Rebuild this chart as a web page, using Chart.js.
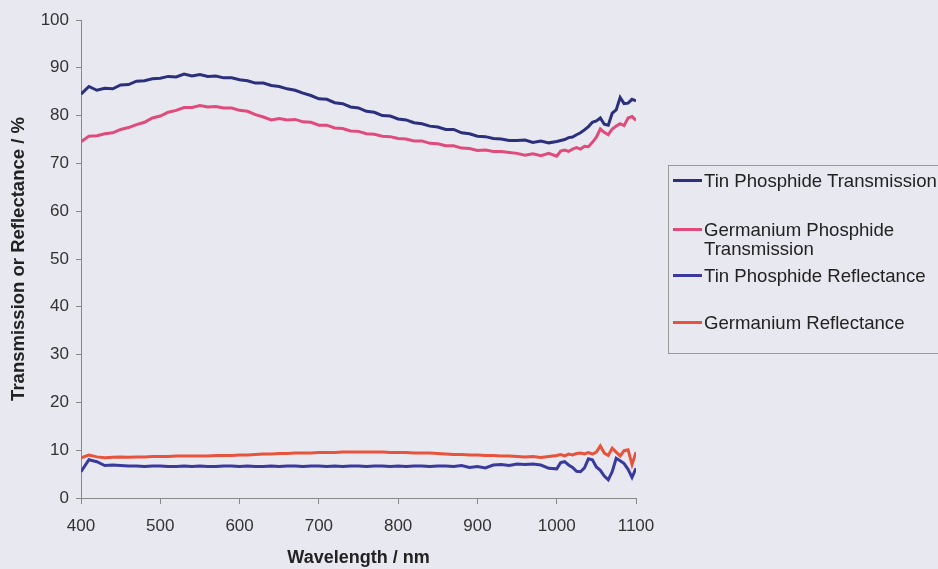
<!DOCTYPE html>
<html>
<head>
<meta charset="utf-8">
<script src="https://cdn.jsdelivr.net/npm/chart.js@4"></script>
<style>
  body { margin: 0; background: #e8e8f0; }
  #wrap { position: relative; width: 938px; height: 569px; overflow: hidden; }
  #legend { position: absolute; left: 668px; top: 165px; width: 300px; height: 187px;
    border: 1px solid #9a9a9a; font-family: Arial, "Liberation Sans", sans-serif; font-size: 18.6px; color: #222; }
  .item { position: absolute; left: 4px; display: flex; align-items: flex-start; line-height: 19px; white-space: nowrap; }
  .item span.sw { display: inline-block; width: 29px; height: 3px; margin-top: 8px; margin-right: 2px; }
</style>
</head>
<body>
<div id="wrap">
  <canvas id="myChart" width="938" height="569"></canvas>
  <div id="legend"></div>
</div>
<script>
const wavelength = [400,410,420,430,440,450,460,470,480,490,500,510,520,530,540,550,560,570,580,590,
  600,610,620,630,640,650,660,670,680,690,700,710,720,730,740,750,760,770,780,790,
  800,810,820,830,840,850,860,870,880,890,900,910,920,930,940,950,960,970,980,990,1000,
  1005,1010,1015,1020,1025,1030,1035,1040,1045,1050,1055,1060,1065,1070,1075,1080,1085,1090,1095,1100];

const tinTrans = [84.5,86.1,85.3,85.7,85.6,86.4,86.5,87.2,87.3,87.7,87.8,88.2,88.1,88.7,88.3,88.6,88.2,88.3,87.9,87.9,
  87.5,87.3,86.8,86.8,86.3,86.1,85.6,85.3,84.7,84.2,83.5,83.4,82.7,82.5,81.8,81.6,80.9,80.7,80.0,79.9,
  79.3,79.1,78.5,78.3,77.8,77.6,77.1,77.1,76.4,76.2,75.7,75.6,75.2,75.1,74.8,74.8,74.9,74.4,74.7,74.3,74.6,
  74.8,75.0,75.4,75.5,76.0,76.4,77.0,77.7,78.6,78.9,79.5,78.2,78.0,80.5,81.2,83.8,82.5,82.6,83.4,83.1];

const gerTrans = [74.5,75.7,75.8,76.2,76.4,77.1,77.5,78.1,78.6,79.5,79.9,80.7,81.1,81.7,81.7,82.1,81.8,81.9,81.6,81.6,
  81.1,80.9,80.2,79.7,79.1,79.4,79.1,79.2,78.7,78.6,78.0,78.0,77.4,77.3,76.8,76.7,76.2,76.1,75.7,75.6,
  75.2,75.1,74.7,74.7,74.2,74.1,73.7,73.7,73.2,73.1,72.7,72.8,72.5,72.5,72.3,72.1,71.7,72.0,71.6,72.1,71.5,
  72.6,72.8,72.5,73.0,73.3,73.0,73.6,73.5,74.4,75.5,77.2,76.5,76.0,77.2,77.8,78.3,77.9,79.5,79.8,79.0];

const tinRefl = [5.5,8.0,7.6,6.8,6.9,6.8,6.7,6.7,6.6,6.7,6.7,6.6,6.6,6.7,6.6,6.7,6.6,6.6,6.7,6.7,
  6.6,6.7,6.6,6.6,6.7,6.6,6.7,6.7,6.6,6.7,6.7,6.6,6.7,6.6,6.7,6.7,6.6,6.7,6.7,6.6,
  6.7,6.6,6.7,6.7,6.6,6.7,6.7,6.6,6.8,6.4,6.6,6.3,6.9,7.0,6.8,7.1,7.0,7.1,6.9,6.2,6.1,
  7.4,7.6,6.9,6.4,5.6,5.5,6.3,8.2,8.0,6.5,5.8,4.6,3.8,5.5,8.3,7.8,7.2,6.0,4.3,6.2];

const gerRefl = [8.4,9.0,8.6,8.4,8.5,8.6,8.5,8.6,8.6,8.7,8.7,8.7,8.8,8.8,8.8,8.8,8.8,8.9,8.9,8.9,
  9.0,9.0,9.1,9.2,9.2,9.3,9.3,9.4,9.4,9.4,9.5,9.5,9.5,9.6,9.6,9.6,9.6,9.6,9.6,9.5,
  9.5,9.5,9.4,9.4,9.4,9.3,9.2,9.1,9.1,9.0,9.0,8.9,8.9,8.8,8.8,8.7,8.6,8.7,8.5,8.7,8.9,
  9.1,8.8,9.2,9.0,9.3,9.4,9.2,9.5,9.2,9.6,10.9,9.4,8.9,10.4,9.6,8.8,9.9,10.1,7.0,9.6];

const seriesNames = ["Tin Phosphide Transmission", "Germanium Phosphide Transmission",
  "Tin Phosphide Reflectance", "Germanium Reflectance"];
const seriesColors = ["#2b2f7c", "#e04b7c", "#3a3a9e", "#e8533c"];
const xTicks = [400, 500, 600, 700, 800, 900, 1000, 1100];

const pts = (ys) => wavelength.map((w, i) => ({ x: w, y: ys[i] }));
const allData = [tinTrans, gerTrans, tinRefl, gerRefl];

const family = "Arial, 'Liberation Sans', sans-serif";

new Chart("myChart", {
  type: "line",
  data: {
    datasets: allData.map((d, i) => ({
      label: seriesNames[i],
      data: pts(d),
      borderColor: seriesColors[i],
      borderWidth: 3,
      pointRadius: 0,
      tension: 0,
    })),
  },
  options: {
    responsive: false,
    animation: false,
    layout: { padding: { top: 20, right: 302, left: 0, bottom: 0 } },
    plugins: { legend: { display: false }, tooltip: { enabled: false } },
    scales: {
      x: {
        type: "linear",
        min: 400,
        max: 1100,
        afterBuildTicks: (s) => { s.ticks = xTicks.map((v) => ({ value: v })); },
        afterFit: (s) => { s.height = 71; },
        grid: { drawOnChartArea: false, color: "#888", tickLength: 6 },
        border: { color: "#888" },
        ticks: { color: "#333", font: { family: family, size: 17 }, padding: 12, maxRotation: 0,
          callback: (v) => String(v) },
        title: { display: true, text: "Wavelength / nm", color: "#222",
          font: { family: family, size: 18, weight: "bold" }, padding: { top: 0, bottom: 0 } },
      },
      y: {
        min: 0,
        max: 100,
        afterFit: (s) => { s.width = 81; },
        grid: { drawOnChartArea: false, color: "#888", tickLength: 5 },
        border: { color: "#888" },
        ticks: { stepSize: 10, color: "#333", font: { family: family, size: 17 }, padding: 7 },
        title: { display: true, text: "Transmission or Reflectance / %", color: "#222",
          font: { family: family, size: 18.5, weight: "bold" }, padding: { top: 8, bottom: 0 } },
      },
    },
  },
});

// legend box
const legend = document.getElementById("legend");
const legendTops = [5, 54, 100, 147];
seriesNames.forEach((name, i) => {
  const item = document.createElement("div");
  item.className = "item";
  item.style.top = legendTops[i] + "px";
  const sw = document.createElement("span");
  sw.className = "sw";
  sw.style.background = seriesColors[i];
  const txt = document.createElement("span");
  txt.innerHTML = i === 1 ? "Germanium Phosphide<br>Transmission" : name;
  item.append(sw, txt);
  legend.append(item);
});
</script>
</body>
</html>
